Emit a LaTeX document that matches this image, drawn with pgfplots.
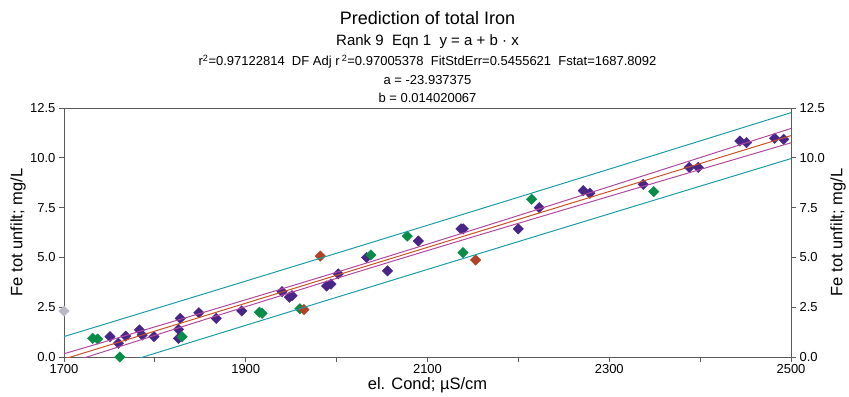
\documentclass[border=0pt]{standalone}
\usepackage{pgfplots}
\pgfplotsset{compat=1.18}
\usepackage{fontspec}
\setmainfont{Liberation Sans}
\definecolor{cpurple}{RGB}{72,38,135}
\definecolor{cgreen}{RGB}{8,140,72}
\definecolor{cred}{RGB}{178,66,38}
\definecolor{cgray}{RGB}{185,185,195}
\definecolor{cteal}{RGB}{28,155,168}
\definecolor{cmag}{RGB}{176,72,160}
\definecolor{cfit}{RGB}{200,82,40}
\definecolor{caxis}{RGB}{90,90,90}
\pgfplotsset{
  commonax/.style={
    width=727bp, height=249bp, scale only axis,
    xmin=1700, xmax=2500, ymin=0, ymax=12.5,
    ytick={0,2.5,5,7.5,10,12.5},
    tick align=outside,
    major tick length=5bp, minor tick length=5bp,
    every tick/.style={caxis, line width=0.8bp},
    axis line style={caxis, line width=0.9bp},
    /pgf/number format/assume math mode=true,
    yticklabel style={/pgf/number format/fixed, /pgf/number format/precision=1, /pgf/number format/fixed zerofill, font=\fontsize{13bp}{15bp}\selectfont},
    xticklabel style={/pgf/number format/1000 sep={}, font=\fontsize{13bp}{15bp}\selectfont, yshift=1bp},
    label style={font=\fontsize{16.5bp}{19bp}\selectfont},
  }
}
\begin{document}
\begin{tikzpicture}
\path[use as bounding box] (-64bp,-40bp) rectangle (785bp,357bp);
\begin{axis}[commonax,
  xtick={1700,1900,2100,2300,2500},
  minor xtick={1800,2000,2200,2400},
  xtick pos=left, ytick pos=left, yticklabel pos=left,
  clip mode=individual,
  xlabel={el. Cond; µS/cm},
  ylabel={Fe tot unfilt; mg/L},
  xlabel style={at={(axis description cs:0.5,-0.1135)}, anchor=center},
  ylabel style={at={(axis description cs:-0.0633,0.5)}, anchor=center},
  mark options={solid, rotate=45},
]
\addplot[only marks, mark=square*, mark size=3.7bp, color=cgray] coordinates {(1700,2.3)};
\addplot[only marks, mark=square*, mark size=3.7bp, color=cpurple] table {
x y
1750.6 1.02
1759.8 0.69
1768 1.05
1783 1.36
1786 1.10
1799 1.02
1826 1.39
1826 0.94
1828 1.94
1848.5 2.22
1867.6 1.94
1895.6 2.32
1940 3.28
1948 3.00
1951 3.08
1989 3.56
1993.7 3.66
2001.8 4.17
2033 5.00
2056 4.32
2090 5.82
2136.8 6.43
2139.4 6.43
2199.9 6.43
2223 7.50
2271.4 8.35
2278.7 8.22
2337.4 8.67
2388 9.52
2398 9.52
2443.7 10.84
2451 10.76
2482 10.98
2492 10.93
};
\addplot[only marks, mark=square*, mark size=3.7bp, color=cgreen] table {
x y
1731.6 0.94
1737 0.90
1761.6 0.00
1830 1.02
1915 2.25
1918 2.20
1959.5 2.42
2037.7 5.12
2077.7 6.07
2139 5.24
2214.6 7.92
2349 8.30
};
\addplot[only marks, mark=square*, mark size=3.7bp, color=cred] table {
x y
1964 2.38
1982 5.07
2153 4.87
};
% prediction band
\addplot[cteal, line width=1bp, mark=none] table {
x y
1700 1.0244
1800 2.4152
1900 3.8102
2000 5.2094
2100 6.6126
2200 8.0200
2300 9.4315
2400 10.8470
2500 12.2664
};
\addplot[cteal, line width=1bp, mark=none] table {
x y
1700 -1.2310
1800 0.1822
1900 1.5912
2000 2.9962
2100 4.3970
2200 5.7936
2300 7.1861
2400 8.5746
2500 9.9592
};
% confidence band
\addplot[cmag, line width=1bp, mark=none, smooth] table {
x y
1700 0.1620
1800 1.5119
1900 2.8732
2000 4.2554
2100 5.6662
2200 7.1019
2300 8.5524
2400 10.0105
2500 11.4727
};
\addplot[cmag, line width=1bp, mark=none, smooth] table {
x y
1700 -0.3686
1800 1.0855
1900 2.5282
2000 3.9502
2100 5.3434
2200 6.7117
2300 8.0652
2400 9.4111
2500 10.7529
};
% fit
\addplot[cfit, line width=1bp, mark=none] table {
x y
1700 -0.1033
2500 11.1128
};
\end{axis}
\begin{axis}[commonax,
  axis x line=none, axis y line*=right,
  ytick pos=right, yticklabel pos=right,
  ylabel={Fe tot unfilt; mg/L},
  ylabel style={at={(axis description cs:1.0647,0.5)}, anchor=center, rotate=0},
]
\addplot[draw=none] coordinates {(1700,0)};
\end{axis}
\node[font=\fontsize{18bp}{20bp}\selectfont] at (363.5bp,339bp) {Prediction of total Iron};
\node[font=\fontsize{15bp}{17bp}\selectfont] at (363.5bp,315bp) {Rank 9\ \ Eqn 1\ \ y = a + b · x};
\node[font=\fontsize{13bp}{15bp}\selectfont] at (363.5bp,295bp) {r\textsuperscript{2}=0.97122814\ \ DF Adj r\,\textsuperscript{2}=0.97005378\ \ FitStdErr=0.5455621\ \ Fstat=1687.8092};
\node[font=\fontsize{13bp}{15bp}\selectfont] at (363.5bp,277bp) {a = -23.937375};
\node[font=\fontsize{13bp}{15bp}\selectfont] at (363.5bp,259bp) {b = 0.014020067};
\end{tikzpicture}
\end{document}
